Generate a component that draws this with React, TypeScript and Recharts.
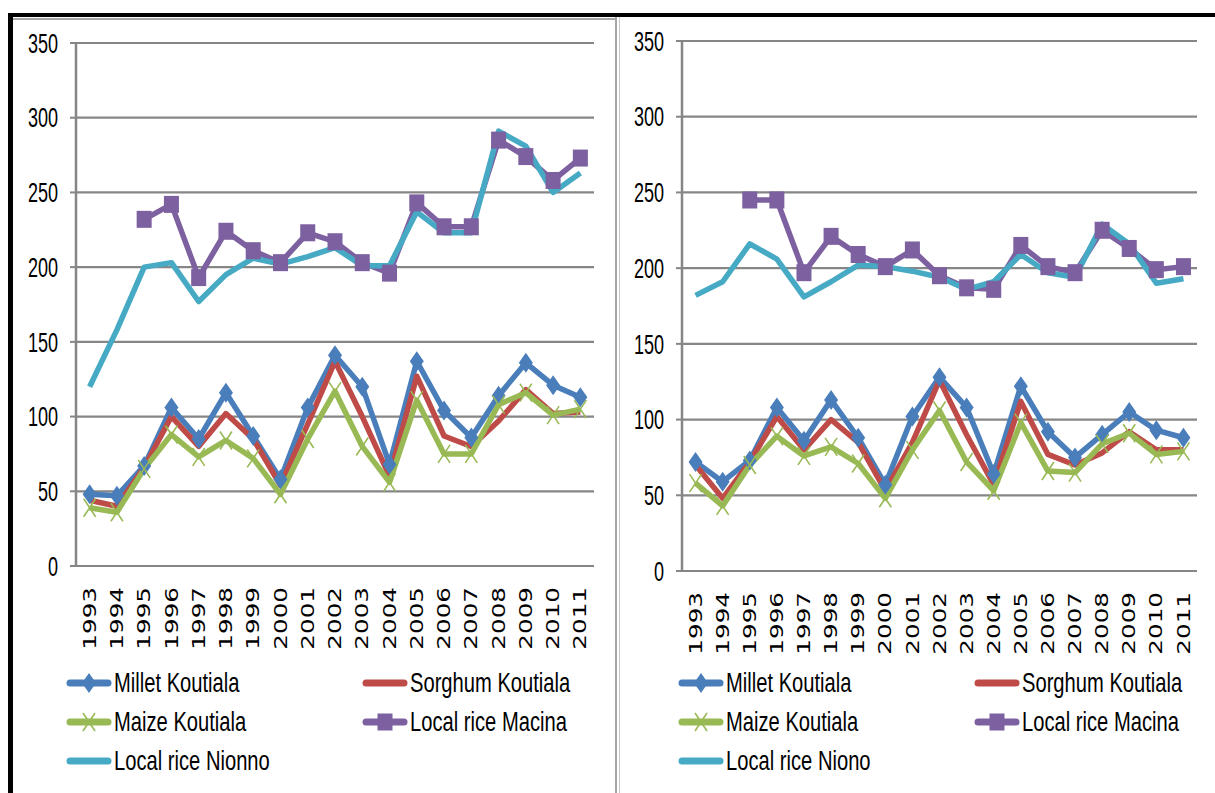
import { LineChart, Line, XAxis, YAxis, CartesianGrid } from 'recharts';

const years = ['1993', '1994', '1995', '1996', '1997', '1998', '1999', '2000', '2001', '2002', '2003', '2004', '2005', '2006', '2007', '2008', '2009', '2010', '2011'];
const yTicks = [0, 50, 100, 150, 200, 250, 300, 350];

// left panel
const milletL = [48, 47, 67, 106, 85, 116, 87, 58, 106, 141, 120, 68, 137, 104, 86, 114, 136, 121, 113];
const sorghumL = [44, 40, 66, 100, 80, 102, 85, 54, 95, 137, 100, 60, 127, 87, 80, 97, 118, 102, 103];
const maizeL = [39, 36, 65, 88, 73, 84, 72, 48, 85, 117, 80, 56, 111, 75, 75, 108, 116, 101, 105];
const macinaL = [null, null, 232, 242, 193, 224, 211, 203, 223, 217, 203, 196, 243, 227, 227, 285, 274, 258, 273];
const nionnoL = [120, 158, 200, 203, 177, 195, 206, 202, 207, 213, 201, 201, 237, 223, 223, 291, 281, 250, 263];

// right panel
const milletR = [72, 59, 73, 108, 86, 113, 88, 57, 102, 128, 108, 64, 122, 92, 75, 90, 105, 93, 88];
const sorghumR = [70, 48, 72, 102, 80, 100, 85, 53, 85, 126, 90, 57, 112, 77, 70, 78, 92, 80, 80];
const maizeR = [58, 43, 70, 89, 76, 82, 71, 48, 80, 106, 72, 53, 98, 66, 65, 84, 91, 77, 79];
const macinaR = [null, null, 245, 245, 197, 221, 209, 201, 212, 195, 187, 186, 215, 201, 197, 225, 213, 199, 201];
const nionoR = [182, 191, 216, 206, 181, 191, 202, 201, 198, 194, 186, 191, 209, 197, 194, 229, 216, 190, 193];

const GRID = '#868686';
const SANS = "'Liberation Sans', Arial, sans-serif";

type Mark = 'diamond' | 'none' | 'x' | 'square';
const SERIES: { key: string; color: string; mark: Mark }[] = [
  { key: 'millet', color: '#4A7EBB', mark: 'diamond' },
  { key: 'sorghum', color: '#BE4B48', mark: 'none' },
  { key: 'maize', color: '#98B954', mark: 'x' },
  { key: 'macina', color: '#7D60A0', mark: 'square' },
  { key: 'nionno', color: '#46AAC5', mark: 'none' },
];

function Marker({ cx, cy, mark, color }: { cx: number; cy: number; mark: Mark; color: string }) {
  if (mark === 'diamond')
    return <polygon points={`${cx},${cy - 10} ${cx + 7},${cy} ${cx},${cy + 10} ${cx - 7},${cy}`} fill={color} />;
  if (mark === 'square') return <rect x={cx - 7.5} y={cy - 8.5} width={15} height={17} fill={color} />;
  if (mark === 'x')
    return (
      <g stroke={color} strokeWidth={1.6}>
        <line x1={cx - 6} y1={cy - 9} x2={cx + 6} y2={cy + 9} />
        <line x1={cx + 6} y1={cy - 9} x2={cx - 6} y2={cy + 9} />
      </g>
    );
  return null;
}

function makeDot(mark: Mark, color: string) {
  if (mark === 'none') return false;
  return (p: any) => {
    if (p.cy == null || p.value == null || p.payload?.[p.dataKey] == null) return <g key={p.key ?? p.index} />;
    return (
      <g key={`${p.dataKey}-${p.index}`}>
        <Marker cx={p.cx} cy={p.cy} mark={mark} color={color} />
      </g>
    );
  };
}

// narrow, tall digits like the original
const YTick = ({ x, y, payload }: any) => (
  <g transform={`translate(${x},${y}) scale(0.82,1.22)`}>
    <text textAnchor="end" dy="0.36em" fontFamily={SANS} fontSize={22} fill="#000">
      {payload.value}
    </text>
  </g>
);

const XTick = ({ x, y, payload }: any) => (
  <g transform={`translate(${x},${y})`}>
    <text transform="rotate(-90) scale(1.45,1)" textAnchor="end" dy="0.36em" fontFamily="'DejaVu Sans', sans-serif" fontSize={17} fill="#000">
      {payload.value}
    </text>
  </g>
);

function LegendIcon({ mark, color }: { mark: Mark; color: string }) {
  return (
    <svg width={46} height={24} style={{ display: 'block' }}>
      <line x1={4} y1={12} x2={42} y2={12} stroke={color} strokeWidth={7} strokeLinecap="round" />
      <Marker cx={23} cy={12} mark={mark} color={color} />
    </svg>
  );
}

interface PanelProps {
  left: number;
  width: number;
  margin: { top: number; right: number; bottom: number; left: number };
  yWidth: number;
  names: string[];
  values: (number | null)[][];
}

function Panel({ left, width, margin, yWidth, names, values }: PanelProps) {
  const data = years.map((year, i) => {
    const row: any = { year };
    SERIES.forEach((s, j) => (row[s.key] = values[j][i]));
    return row;
  });
  const edges = years.map((_, i) => i).concat(years.length);

  return (
    <div style={{ position: 'absolute', left, top: 0 }}>
      <LineChart width={width} height={680} data={data} margin={margin}>
        <CartesianGrid xAxisId="cat" vertical={false} stroke={GRID} strokeWidth={2.2} />
        <XAxis
          xAxisId="marks"
          type="number"
          domain={[0, years.length]}
          ticks={edges}
          allowDataOverflow
          height={0}
          tickSize={9}
          tickFormatter={() => ''}
          axisLine={{ stroke: GRID, strokeWidth: 2.5 }}
          tickLine={{ stroke: GRID, strokeWidth: 1.5 }}
        />
        <XAxis
          xAxisId="cat"
          dataKey="year"
          scale="band"
          interval={0}
          height={100}
          axisLine={false}
          tickLine={false}
          tickSize={0}
          tickMargin={21}
          tick={<XTick />}
        />
        <YAxis
          width={yWidth}
          domain={[0, 350]}
          ticks={yTicks}
          interval={0}
          tickSize={6}
          tickMargin={12}
          axisLine={{ stroke: GRID, strokeWidth: 2.5 }}
          tickLine={{ stroke: GRID, strokeWidth: 2 }}
          tick={<YTick />}
        />
        {SERIES.map((s) => (
          <Line
            key={s.key}
            xAxisId="cat"
            dataKey={s.key}
            stroke={s.color}
            strokeWidth={5.5}
            strokeLinejoin="round"
            dot={makeDot(s.mark, s.color)}
            activeDot={false}
            isAnimationActive={false}
          />
        ))}
      </LineChart>
      <div
        style={{
          position: 'absolute',
          left: 66,
          top: 663,
          display: 'grid',
          gridTemplateColumns: '296px 260px',
          gridAutoRows: '39px',
        }}
      >
        {SERIES.map((s, j) => (
          <div key={s.key} style={{ display: 'flex', alignItems: 'center' }}>
            <LegendIcon mark={s.mark} color={s.color} />
            <span
              style={{
                fontFamily: SANS,
                fontSize: 24,
                marginLeft: 2,
                display: 'inline-block',
                transform: 'scale(0.84,1.18)',
                transformOrigin: 'left center',
                whiteSpace: 'nowrap',
                color: '#000',
              }}
            >
              {names[j]}
            </span>
          </div>
        ))}
      </div>
    </div>
  );
}

export default function App() {
  return (
    <div style={{ position: 'absolute', left: 0, top: 0, width: 1215, height: 793, background: '#fff', overflow: 'hidden' }}>
      <Panel
        left={0}
        width={612}
        margin={{ top: 43, right: 18, bottom: 14, left: 0 }}
        yWidth={76}
        names={['Millet Koutiala', 'Sorghum Koutiala', 'Maize Koutiala', 'Local rice Macina', 'Local rice Nionno']}
        values={[milletL, sorghumL, maizeL, macinaL, nionnoL]}
      />
      <Panel
        left={612}
        width={603}
        margin={{ top: 41, right: 18, bottom: 9, left: 0 }}
        yWidth={70}
        names={['Millet Koutiala', 'Sorghum Koutiala', 'Maize Koutiala', 'Local rice Macina', 'Local rice Niono']}
        values={[milletR, sorghumR, maizeR, macinaR, nionoR]}
      />
      {/* frame */}
      <div style={{ position: 'absolute', left: 8, top: 13, width: 1207, height: 4, background: '#000' }} />
      <div style={{ position: 'absolute', left: 8, top: 13, width: 5, height: 780, background: '#000' }} />
      <div style={{ position: 'absolute', left: 13, top: 18, width: 603, height: 2, background: '#a6a6a6' }} />
      <div style={{ position: 'absolute', left: 615, top: 17, width: 2, height: 776, background: '#a6a6a6' }} />
      <div style={{ position: 'absolute', left: 619, top: 17, width: 1, height: 776, background: '#c8c8c8' }} />
    </div>
  );
}
